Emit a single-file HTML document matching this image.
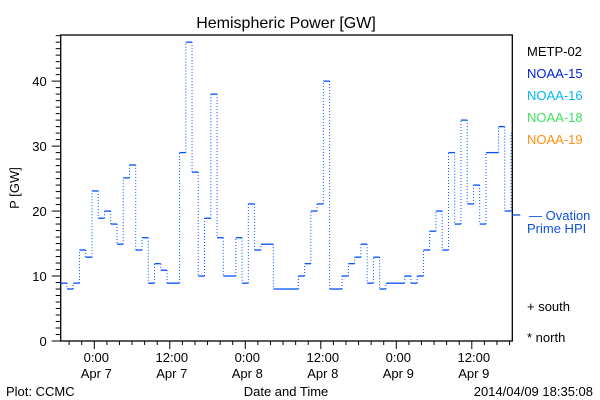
<!DOCTYPE html>
<html><head><meta charset="utf-8"><style>
body{margin:0;background:#fff;}
svg{display:block;font-family:"Liberation Sans",sans-serif;}
</style></head><body>
<svg id="chart" width="600" height="400" viewBox="0 0 600 400">
<rect x="0" y="0" width="600" height="400" fill="#fff"/>
<text x="286" y="28" font-size="16" text-anchor="middle">Hemispheric Power [GW]</text>
<text transform="translate(19,188) rotate(-90)" font-size="13" text-anchor="middle">P [GW]</text>
<text x="286" y="396" font-size="13" text-anchor="middle">Date and Time</text>
<text x="6" y="396" font-size="13">Plot: CCMC</text>
<text x="593" y="396" font-size="13" text-anchor="end">2014/04/09 18:35:08</text>
<g id="axes"></g>
<g id="series"></g>
<g id="legend" font-size="13">
<text x="527" y="56" fill="#000">METP-02</text>
<text x="527" y="78" fill="#0020e0">NOAA-15</text>
<text x="527" y="100" fill="#00b8f0">NOAA-16</text>
<text x="527" y="122" fill="#40e060">NOAA-18</text>
<text x="527" y="144" fill="#ff9010">NOAA-19</text>
<text x="529" y="220" fill="#1050e0">— Ovation</text>
<text x="527" y="233" fill="#1050e0">Prime HPI</text>
<text x="527" y="311" fill="#000">+ south</text>
<text x="527" y="342" fill="#000">* north</text>
</g>
</svg>
<script>
const hpValues=[8.9,8.0,8.9,14.0,12.9,23.1,18.9,20.0,18.0,14.9,25.1,27.1,14.0,15.9,8.9,11.9,10.9,8.9,8.9,29.0,46.0,26.0,10.0,18.9,38.0,15.9,10,10,15.9,8.9,21.1,14.0,14.9,14.9,
8,8,8,8,10,11.9,20,21.1,40,8,8,10,11.9,12.9,14.9,8.9,12.9,8.0,8.9,8.9,8.9,10,8.9,10,14,16.9,20,14,29,18,34,21.1,24,18,29,29,33,20,32];
const startHour=-5.34;
const stepHours=0.994;
const ovationValue=19.4;
const yTicks=[0,10,20,30,40];
const xTickHours=[0,12,24,36,48,60];
const xTickLines1=["0:00","12:00","0:00","12:00","0:00","12:00"];
const xTickLines2=["Apr 7","Apr 7","Apr 8","Apr 8","Apr 9","Apr 9"];

const L=60.7,R=512.3,T=35,B=341,yMax=47.1,xMin=-5.34,pxPerHour=75.5/12;
const X=h=>94.3+h*pxPerHour;
const Y=v=>B-(v/yMax)*(B-T);
const NS='http://www.w3.org/2000/svg';
function mk(tag,attrs,parent){const e=document.createElementNS(NS,tag);for(const k in attrs)e.setAttribute(k,attrs[k]);parent.appendChild(e);return e;}
const ax=document.getElementById('axes');
const frame=mk('rect',{x:L,y:T,width:R-L,height:B-T,fill:'none',stroke:'#000','stroke-width':1.3},ax);


for(let v=0;v<=47;v++){
  const y=Y(v),major=v%10===0;
  const t=mk('line',{x1:L-(major?9:5),x2:L,y1:y,y2:y,stroke:'#000','stroke-width':1},ax);
  
  
}
yTicks.forEach(v=>{
  const t=mk('text',{x:L-14,y:Y(v)+5,'font-size':13,'text-anchor':'end'},ax);t.textContent=v;
  
  
});
for(let h=-4;h<=66;h+=2){
  const x=X(h);if(x<L||x>R)continue;const major=h%12===0;
  const t=mk('line',{x1:x,x2:x,y1:B,y2:B+(major?8:4),stroke:'#000','stroke-width':1},ax);
  
  
}
xTickHours.forEach((h,i)=>{
  const a=mk('text',{x:X(h)+2,y:362,'font-size':13,'text-anchor':'middle'},ax);a.textContent=xTickLines1[i];
  
  
  const b=mk('text',{x:X(h)+2,y:378,'font-size':13,'text-anchor':'middle'},ax);b.textContent=xTickLines2[i];
  
  
});
const sg=document.getElementById('series');
const col='#0050ff';
let prevY=null;
hpValues.forEach((v,i)=>{
  const x1=X(startHour+i*stepHours),x2=Math.min(R,X(startHour+(i+1)*stepHours)),y=Y(v);
  if(prevY!==null){
    const c=mk('line',{x1:x1,x2:x1,y1:prevY,y2:y,stroke:col,'stroke-width':1,'stroke-dasharray':'1,2'},sg);
    
    
  }
  if(x2>x1){
    const s=mk('line',{x1:x1,x2:x2,y1:y,y2:y,stroke:col,'stroke-width':1.3},sg);
    
    
  }
  prevY=y;
});
const ov=mk('line',{x1:R,x2:R+8,y1:Y(ovationValue),y2:Y(ovationValue),stroke:'#1050e0','stroke-width':1.3},sg);


</script>
</body></html>
